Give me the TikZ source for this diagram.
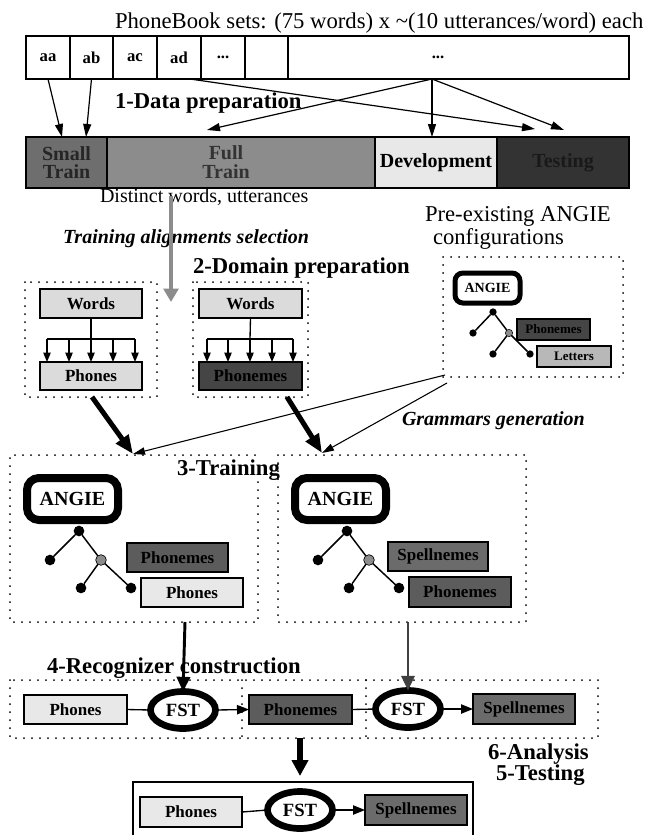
\documentclass[tikz,border=0pt]{standalone}
\usepackage{fontspec}
\setmainfont{Liberation Serif}
\usetikzlibrary{arrows.meta,shapes.geometric}

% box node given by its corners (x1,y1) (x2,y2) in pixel units
\newcommand\placebox[7]{%
  \node[#6,minimum width={(#4-#2)*0.75pt},minimum height={(#5-#3)*0.75pt}]
    (#1) at ({(#2+#4)/2},{(#3+#5)/2}) {#7};}

\definecolor{gLight}{gray}{0.86}
\definecolor{gPale}{gray}{0.91}
\definecolor{gMid}{gray}{0.55}
\definecolor{gSmall}{gray}{0.43}
\definecolor{gDark}{gray}{0.36}
\definecolor{gDeep}{gray}{0.27}
\definecolor{gTest}{gray}{0.20}
\definecolor{gLetter}{gray}{0.72}
\definecolor{gSpell}{gray}{0.42}
\definecolor{gArrow}{gray}{0.55}

\begin{document}
\begin{tikzpicture}[x=0.75pt,y=-0.75pt,
  every node/.style={inner sep=0pt,outer sep=0pt},
  txt/.style={anchor=base west,font=\fontsize{17}{20}\selectfont},
  smalltxt/.style={anchor=base west,font=\fontsize{15}{18}\selectfont},
  head/.style={anchor=base west,font=\bfseries\fontsize{17}{20}\selectfont},
  note/.style={anchor=base west,font=\bfseries\itshape\fontsize{15}{18}\selectfont},
  cell/.style={draw,line width=1.1pt,fill=white,font=\bfseries\fontsize{12.5}{14}\selectfont},
  seg/.style={draw,line width=1.1pt,align=center,font=\bfseries\fontsize{15}{15}\selectfont},
  lbl/.style={draw,line width=0.9pt,font=\bfseries\fontsize{12.75}{14}\selectfont},
  tinylbl/.style={draw,line width=0.8pt,font=\bfseries\fontsize{9.75}{11}\selectfont},
  dotbox/.style={line width=1.5pt,line cap=round,dash pattern=on 0pt off 6pt},
  thinarrow/.style={line width=0.9pt,-{Triangle[length=9.75pt,width=6pt]}},
  fanarrow/.style={line width=0.9pt,-{Triangle[length=7pt,width=5.5pt]}},
  heavyarrow/.style={line width=3.75pt,-{Triangle[length=14pt,width=11pt]}},
  grammararrow/.style={line width=0.8pt,-{Triangle[length=9pt,width=5.5pt]}},
  angiebox/.style={draw,line width=6pt,rounded corners=9pt,fill=white,font=\bfseries\fontsize{15}{17}\selectfont},
  angiesmall/.style={draw,line width=3.75pt,rounded corners=6pt,fill=white,font=\bfseries\fontsize{10.5}{12}\selectfont},
  fst/.style={ellipse,draw,line width=5pt,fill=white,minimum width=48.75pt,minimum height=27.75pt,font=\bfseries\fontsize{14}{16}\selectfont},
  leaf/.style={circle,fill=black,minimum size=8pt},
  leafmid/.style={circle,fill=gMid,draw=black,line width=0.5pt,minimum size=8pt},
  leafs/.style={circle,fill=black,minimum size=5.5pt},
  leafsmid/.style={circle,fill=gMid,draw=black,line width=0.4pt,minimum size=5.5pt},
  branch/.style={line width=1.1pt}]
\useasboundingbox (0,0) rectangle (655,835);

% ---------- PhoneBook sets ----------
\node[txt] (title) at (115,28) {PhoneBook sets: (75 words) x \textasciitilde(10 utterances/word) each};
\placebox{aa}{26}{36}{70}{79}{cell}{aa}
\placebox{ab}{70}{36}{113}{79}{cell}{ab}
\placebox{ac}{113}{36}{157}{79}{cell}{ac}
\placebox{ad}{157}{36}{201}{79}{cell}{ad}
\placebox{etc}{201}{36}{245}{79}{cell}{...}
\placebox{blank}{245}{36}{288}{79}{cell}{}
\placebox{rest}{288}{36}{629}{79}{cell}{}
\node[font=\bfseries\fontsize{12.5}{14}\selectfont] (restdots) at (438,57) {...};

% ---------- data split bar ----------
\placebox{small}{26}{137}{107}{188}{seg,fill=gSmall,text=black!85}{Small\\[-1pt]Train}
\placebox{full}{107}{137}{375}{188}{seg,fill=gMid}{}
\node[align=center,font=\bfseries\fontsize{15}{15}\selectfont,text=black!80] (fulltxt) at (226,162) {Full\\[-1pt]Train};
\placebox{dev}{375}{137}{497}{188}{seg,fill=gPale}{Development}
\placebox{test}{497}{137}{629}{188}{seg,fill=gTest,text=black!90}{Testing}

\node[head] (step1) at (115,108) {1-Data preparation};

\coordinate (adout) at (190,79);
\coordinate (restout) at (432,79);
\coordinate (smallinA) at (62,137);
\coordinate (smallinB) at (86,137);
\coordinate (fullin) at (207,130);
\coordinate (devin) at (432,137);
\coordinate (testinA) at (535,129);
\coordinate (testinB) at (564,130);
\draw[thinarrow] (aa.south) -- (smallinA);
\draw[thinarrow] (ab.south) -- (smallinB);
\draw[thinarrow] (adout) -- (testinA);
\draw[thinarrow] (restout) -- (fullin);
\draw[thinarrow] (restout) -- (devin);
\draw[thinarrow] (restout) -- (testinB);

\node[smalltxt] (distinct) at (100,202) {Distinct words, utterances};
\node[note] (align) at (63,243) {Training alignments selection};
\coordinate (selfrom) at (171,196);
\coordinate (selto) at (171,302);
\draw[line width=3pt,draw=gArrow,-{Triangle[length=10pt,width=11pt]}] (selfrom) -- (selto);

% ---------- domain preparation ----------
\node[head] (step2) at (193,273) {2-Domain preparation};

\draw[dotbox] (25,282) rectangle (157,397);
\placebox{wordsA}{40}{289}{142}{318}{lbl,fill=gLight}{Words}
\placebox{phonesA}{40}{362}{142}{390}{lbl,fill=gLight}{Phones}
\coordinate (forkA) at (91,339);
\draw[line width=1pt] (wordsA.south) -- (forkA);
\draw[line width=1pt] (47,339) -- (135,339);
\foreach \x in {47,69,91,113,135}{
  \coordinate (fa\x) at (\x,339);
  \draw[fanarrow] (fa\x) -- (fa\x |- phonesA.north);}

\draw[dotbox] (193,282) rectangle (308,397);
\placebox{wordsB}{199}{289}{302}{318}{lbl,fill=gLight}{Words}
\placebox{phonemesB}{199}{362}{302}{390}{lbl,fill=gDeep}{Phonemes}
\coordinate (forkB) at (250,339);
\draw[line width=1pt] (wordsB.south) -- (forkB);
\draw[line width=1pt] (207,339) -- (293,339);
\foreach \x in {207,228,250,272,293}{
  \coordinate (fb\x) at (\x,339);
  \draw[fanarrow] (fb\x) -- (fb\x |- phonemesB.north);}

% ---------- pre-existing ANGIE configurations ----------
\node[txt] (pre1) at (425,221) {Pre-existing ANGIE};
\node[txt] (pre2) at (433,244) {configurations};
\draw[dotbox] (443,257) rectangle (623,377);
\placebox{angieS}{455}{273}{520}{303}{angiesmall}{ANGIE}
\placebox{phonemesS}{517}{319}{590}{340}{tinylbl,fill=gDeep}{Phonemes}
\placebox{lettersS}{537}{346}{611}{367}{tinylbl,fill=gLetter}{Letters}
\node[leafs] (sT) at (493,312) {};
\node[leafs] (sL) at (473,333) {};
\node[leafsmid] (sM) at (509,333) {};
\node[leafs] (sBL) at (493,354) {};
\node[leafs] (sBR) at (530,354) {};
\draw[branch] (sT) -- (sL) (sT) -- (sM) (sM) -- (sBL) (sM) -- (sBR);

\node[note] (gram) at (402,425) {Grammars generation};

% ---------- training ----------
\coordinate (trainA) at (133,454);
\coordinate (trainB) at (322,453);
\coordinate (outA) at (92,397);
\coordinate (outB) at (287,397);
\coordinate (gramA) at (445,375);
\coordinate (gramB) at (447,383);
\draw[heavyarrow] (outA) -- (trainA);
\draw[heavyarrow] (outB) -- (trainB);
\draw[grammararrow] (gramA) -- (trainA);
\draw[grammararrow] (gramB) -- (trainB);

\draw[dotbox] (258,482) -- (258,622) -- (10,622) -- (10,455) -- (258,455);
\draw[dotbox] (278,455) rectangle (526,622);
\node[head] (step3) at (177,475) {3-Training};

\placebox{angieA}{27}{478}{118}{520}{angiebox}{ANGIE}
\node[leaf] (aT) at (79,531) {};
\node[leaf] (aL) at (50,560) {};
\node[leafmid] (aM) at (101,560) {};
\node[leaf] (aBL) at (81,588) {};
\node[leaf] (aBR) at (131,588) {};
\draw[branch] (aT) -- (aL) (aT) -- (aM) (aM) -- (aBL) (aM) -- (aBR);
\placebox{phonemesT}{127}{543}{228}{572}{lbl,fill=gDark}{Phonemes}
\placebox{phonesT}{141}{578}{243}{607}{lbl,fill=gPale}{Phones}

\placebox{angieB}{295}{478}{386}{520}{angiebox}{ANGIE}
\node[leaf] (bT) at (347,531) {};
\node[leaf] (bL) at (318,560) {};
\node[leafmid] (bM) at (369,560) {};
\node[leaf] (bBL) at (349,588) {};
\node[leaf] (bBR) at (399,588) {};
\draw[branch] (bT) -- (bL) (bT) -- (bM) (bM) -- (bBL) (bM) -- (bBR);
\placebox{spellT}{388}{542}{488}{571}{lbl,fill=gSpell}{Spellnemes}
\placebox{phonemesT2}{409}{577}{511}{607}{lbl,fill=gDark}{Phonemes}

% ---------- recognizer construction ----------
\node[head] (step4) at (47,673) {4-Recognizer construction};
\draw[dotbox] (10,680) rectangle (598,738);
\draw[dotbox] (242,680) -- (242,738);
\draw[dotbox] (366,680) -- (366,738);

\placebox{phonesR}{24}{695}{127}{724}{lbl,fill=gPale}{Phones}
\node[fst] (fstA) at (183,710) {FST};
\placebox{phonemesR}{249}{695}{352}{724}{lbl,fill=gDark}{Phonemes}
\node[fst] (fstB) at (408,709) {FST};
\placebox{spellR}{473}{694}{575}{724}{lbl,fill=gSpell}{Spellnemes}
\draw[line width=1pt] (phonesR.east) -- (fstA.west);
\draw[line width=1pt,-{Triangle[length=9pt,width=7pt]}] (fstA.east) -- (phonemesR.west);
\draw[line width=1pt] (phonemesR.east) -- (fstB.west);
\draw[line width=1pt,-{Triangle[length=9pt,width=7pt]}] (fstB.east) -- (spellR.west);

\coordinate (trainAout) at (185,622);
\coordinate (trainBout) at (408,622);
\draw[line width=2.2pt,-{Triangle[length=11pt,width=10pt]}] (trainAout) -- (fstA.north);
\draw[line width=1.8pt,draw=black!75,-{Triangle[length=11pt,width=10pt]}] (trainBout) -- (fstB.north);

\node[head] (step6) at (488,759) {6-Analysis};
\node[head] (step5) at (496,780) {5-Testing};

% ---------- testing ----------
\coordinate (recout) at (300,738);
\coordinate (testintop) at (300,776);
\draw[line width=5pt,-{Triangle[length=12pt,width=12pt]}] (recout) -- (testintop);
\draw[line width=1pt] (133,850) -- (133,782) -- (473,782) -- (473,850);
\placebox{phonesF}{140}{797}{242}{827}{lbl,fill=gPale}{Phones}
\node[fst] (fstC) at (300,810) {FST};
\placebox{spellF}{365}{795}{467}{825}{lbl,fill=gSpell}{Spellnemes}
\draw[line width=1pt] (phonesF.east) -- (fstC.west);
\draw[line width=1pt,-{Triangle[length=9pt,width=7pt]}] (fstC.east) -- (spellF.west);
\end{tikzpicture}
\end{document}
